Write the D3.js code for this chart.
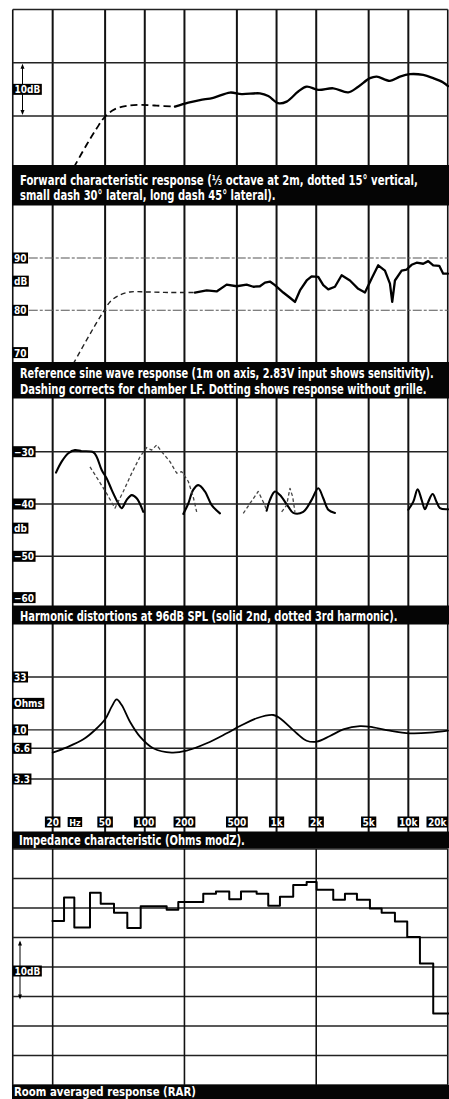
<!DOCTYPE html>
<html><head><meta charset="utf-8">
<script src="https://cdn.jsdelivr.net/npm/d3@7"></script>
<style>
html,body{margin:0;padding:0;background:#fff;}
svg{display:block;}
text{font-family:"Liberation Sans Narrow","DejaVu Sans Condensed","Arial Narrow",sans-serif;}
</style></head><body>
<svg id="c" width="449" height="1099"></svg>
<script>
// ---------- shared axis ----------
const freqTicks = [20, 50, 100, 200, 500, 1000, 2000, 5000, 10000, 20000];
const freqLabels = ["20", "50", "100", "200", "500", "1k", "2k", "5k", "10k", "20k"];
const hzLabelFreq = 29.5;
const rarFreqTicks = [20, 200, 2000];

// ---------- panel 1: forward characteristic (relative dB) ----------
const fwdGrid = [0, 10, 20];
const fwdDashed = [[29,-9.6],[36.2,-5.4],[43.2,-2.3],[50,-0.1],[59.4,1.3],[72.9,1.9],[91.9,2.1],[123,1.95],[169.5,1.75]];
const fwdSolid = [[169.5,1.75],[214,2.5],[262,3.0],[331,3.4],[443,4.4],[544,4.1],[748,4.25],[865,3.75],[1030,2.4],[1193,2.7],[1461,4.6],[1692,5.5],[2072,4.9],[2693,5.2],[3499,4.45],[4168,5.5],[5112,7.1],[5748,7.4],[7252,6.6],[8639,7.4],[10283,7.85],[12972,7.7],[15450,7.1],[18399,6.3],[20000,5.6]];

// ---------- panel 2: reference sine wave response (dB SPL) ----------
const refGrid = [80, 90];
const refLabels = ["90", "dB", "80", "70"];
const refLabelValues = [90, 85, 80, 70];
const refDashed = [[28.7,69.8],[35.2,73.8],[41.9,77.1],[48.4,79.7],[54.4,81.6],[63,82.8],[77.2,83.5],[103.4,83.5],[155.3,83.4],[240,83.4]];
const refSolid = [[240,83.4],[295,83.8],[351,83.6],[418,84.9],[498,84.6],[593,84.9],[666,84.5],[748,84.6],[817,85.3],[891,85.5],[972,84.8],[1124,83.4],[1264,82.4],[1379,81.6],[1505,83.8],[1692,85.7],[1846,86.5],[2072,86.4],[2262,84.8],[2469,84.0],[2774,84.5],[3118,86.7],[3605,85.7],[4168,84.1],[4687,83.4],[5267,86.1],[5909,88.6],[6645,87.6],[7252,85.1],[7548,81.6],[7913,85.7],[8896,87.6],[9707,87.8],[10593,88.7],[11561,89.1],[12972,88.9],[14158,89.4],[15450,88.6],[17160,88.5],[18399,87.0],[20000,87.0]];

// ---------- panel 3: harmonic distortion (dB) ----------
const hdGrid = [-30, -40, -50];
const hdLabels = ["\u221230", "\u221240", "db", "\u221250"];
const hdLabelValues = [-30, -40, -45, -50];
const hdBottomLabel = "\u221260";
const hdBottomValue = -60;
const h2SegA = [[21.2,-34.0],[23.4,-31.9],[26.3,-30.3],[29.5,-29.7],[33.2,-29.9],[40.7,-30.1],[43.2,-31.0],[47.1,-33.5],[51.4,-35.1],[56.1,-37.3],[63.0,-39.9],[66.8,-40.8],[72.9,-39.2],[79.6,-38.3],[86.8,-38.9],[97.4,-41.5]];
const h2SegB = [[196,-41.9],[214,-39.9],[233,-37.3],[255,-36.4],[286,-37.6],[322,-40.2],[372,-41.8]];
const h2SegC = [[841,-41.3],[891,-39.2],[972,-37.6],[1061,-38.3],[1227,-40.5],[1338,-41.7],[1594,-41.5],[1846,-39.2],[2072,-37.0],[2262,-38.9],[2469,-41.1],[2774,-41.7]];
const h2SegD = [[9982,-41.1],[10894,-39.6],[11764,-37.2],[12617,-39.2],[13365,-41.0],[14158,-39.6],[15288,-38.1],[16394,-39.6],[17374,-40.8],[20000,-41.0]];
const h3SegA = [[38.4,-32.9],[44.4,-35.4],[51.4,-38.0],[59.4,-40.8],[68.7,-37.6],[79.6,-34.1],[91.9,-31.0],[103.4,-29.2],[112.8,-29.7],[123.1,-28.7],[134.4,-30.0],[155.3,-31.9],[174.6,-34.1],[190.5,-33.8],[214,-35.7],[233,-38.6],[247.6,-41.5]];
const h3SegB = [[559,-41.8],[628,-39.9],[726,-37.6],[793,-39.6],[841,-41.1]];
const h3SegC = [[1093,-41.5],[1193,-40.2],[1264,-37.0],[1325,-38.6],[1379,-41.5]];

// ---------- panel 4: impedance (ohms) ----------
const impGrid = [33, 10, 6.6, 3.3];
const impLabels = ["33", "Ohms", "10", "6.6", "3.3"];
const impLabelValues = [33, 18.2, 10, 6.6, 3.3];
const impedance = [[20,5.98],[25.6,6.75],[34.2,8.08],[41.9,9.97],[50,12.7],[56.1,16.9],[61.2,19.9],[66.8,17.5],[77.2,12.0],[91.9,8.58],[116,6.6],[160,5.98],[208,6.25],[295,7.39],[418,9.26],[528,10.9],[706,13.0],[944,14.0],[1061,13.0],[1421,9.26],[1692,7.83],[2015,7.66],[2543,8.71],[3208,10.1],[4293,10.9],[5416,10.6],[7252,9.82],[10283,9.26],[14585,9.38],[20000,9.82]];

// ---------- panel 5: room averaged response (steps: band start freq, dB) ----------
const rarGrid = [-20, -15, -10, -5, 0, 5, 10, 15, 20];
const rarSteps = [[20,7.8],[24.4,11.8],[29.2,6.7],[38.4,12.6],[46.3,10.7],[58.4,9.2],[73.7,6.6],[93.1,10.3],[146.6,9.7],[179.6,11.0],[277.8,12.4],[346.9,12.8],[437.7,11.5],[537,12.8],[706,12.4],[865,10.4],[1061,11.9],[1338,13.9],[1692,14.4],[2015,13.1],[2693,11.4],[3304,12.4],[4074,11.4],[5112,9.9],[6273,9.2],[7913,7.7],[9810,5.1],[12246,0.6],[15450,-7.9],[20000,-7.9]];

// ---------- captions ----------
const captions1 = ["Forward characteristic response (\u2153 octave at 2m, dotted 15\u00b0 vertical,", "small dash 30\u00b0 lateral, long dash 45\u00b0 lateral)."];
const captions2 = ["Reference sine wave response (1m on axis, 2.83V input shows sensitivity).", "Dashing corrects for chamber LF. Dotting shows response without grille."];
const captions3 = ["Harmonic distortions at 96dB SPL (solid 2nd, dotted 3rd harmonic)."];
const captions4 = ["Impedance characteristic (Ohms modZ)."];
const captions5 = ["Room averaged response (RAR)"];

// ================= drawing =================
const L = 12.75, R = 447.75;
const x = d3.scaleLog().domain([10, 20000]).range([13, 448]);
const y1 = d3.scaleLinear().domain([-10, 20]).range([169.3, 9.4]);
const y2 = d3.scaleLinear().domain([70, 100]).range([362.6, 205.7]);
const y3 = d3.scaleLinear().domain([-60, -20]).range([608.6, 399.4]);
const y4 = d3.scaleLog().domain([3.3, 33]).range([779, 677]);
const y5 = d3.scaleLinear().domain([-20, 20]).range([1085, 849]);

const svg = d3.select("#c");
svg.append("rect").attr("width", 449).attr("height", 1099).attr("fill", "#fff");

const grid = svg.append("g");
grid.selectAll(".v").data(freqTicks).join("line")
  .attr("x1", d => Math.min(x(d), R)).attr("x2", d => Math.min(x(d), R))
  .attr("y1", 9.5).attr("y2", 832)
  .attr("stroke", "#111").attr("stroke-width", d => d === 20000 ? 1.6 : 2);
grid.append("line").attr("x1", L).attr("x2", L).attr("y1", 9.5).attr("y2", 1090)
  .attr("stroke", "#111").attr("stroke-width", 1.6);
grid.append("line").attr("x1", R).attr("x2", R).attr("y1", 849).attr("y2", 1090)
  .attr("stroke", "#111").attr("stroke-width", 1.6);

function hlines(vals, ys, style) {
  grid.selectAll(null).data(vals).join("line")
    .attr("x1", L).attr("x2", R)
    .attr("y1", d => ys(d)).attr("y2", d => ys(d))
    .attr("stroke", style.c).attr("stroke-width", style.w)
    .attr("stroke-dasharray", style.dash || null);
}
hlines(fwdGrid, y1, {c: "#222", w: 1.5});
hlines(refGrid, y2, {c: "#555", w: 1.1, dash: "9,2,3,2"});
hlines(hdGrid, y3, {c: "#222", w: 1.4});
hlines(impGrid, y4, {c: "#222", w: 1.4});
hlines(rarGrid, y5, {c: "#222", w: 1.4});
grid.selectAll(null).data(rarFreqTicks).join("line")
  .attr("x1", d => x(d)).attr("x2", d => x(d)).attr("y1", 849).attr("y2", 1085)
  .attr("stroke", "#111").attr("stroke-width", 1.6);

const smooth = d3.curveCatmullRom.alpha(0.5);
function curve(data, ys, opts) {
  const gen = d3.line().x(d => x(d[0])).y(d => ys(d[1])).curve(opts.curve || smooth);
  svg.append("path").datum(data).attr("d", gen)
    .attr("fill", "none").attr("stroke", opts.c || "#000")
    .attr("stroke-width", opts.w || 2.2)
    .attr("stroke-linejoin", "round").attr("stroke-linecap", opts.cap || "round")
    .attr("stroke-dasharray", opts.dash || null);
}
curve(fwdDashed, y1, {w: 1.8, dash: "7,4", cap: "butt"});
curve(fwdSolid, y1, {w: 2.3});
curve(refDashed, y2, {w: 1.4, dash: "5,3.5", cap: "butt", c: "#222"});
curve(refSolid, y2, {w: 2.3, curve: d3.curveLinear});
[h2SegA, h2SegB, h2SegC, h2SegD].forEach(s => curve(s, y3, {w: 2.1}));
[h3SegA, h3SegB, h3SegC].forEach(s => curve(s, y3, {w: 1.3, dash: "3.5,2.5", cap: "butt", c: "#444", curve: d3.curveLinear}));
curve(impedance, y4, {w: 1.8});
curve(rarSteps, y5, {w: 2, curve: d3.curveStepAfter, cap: "square"});

// ---------- captions ----------
function caption(top, bottom, lines, baselines, lengths, startX, fs) {
  svg.append("rect").attr("x", 12).attr("y", top).attr("width", 437).attr("height", bottom - top).attr("fill", "#050505");
  lines.forEach((t, i) => {
    const tx = svg.append("text").text(t).attr("x", 0).attr("y", 0)
      .attr("font-size", fs || 14.5).attr("font-weight", "bold").attr("fill", "#fff");
    const nat = tx.node().getComputedTextLength();
    const k = lengths[i] / nat;
    tx.attr("transform", `translate(${startX || 20},${baselines[i]}) scale(${k},1)`);
  });
}
caption(165, 205.5, captions1, [185, 200], [398, 256]);
caption(362, 398.5, captions2, [378, 393.5], [414, 407]);
caption(605.5, 624.5, captions3, [621], [378]);
caption(831.5, 848.5, captions4, [845], [226], 19);
caption(1085, 1099, captions5, [1095.5], [182], 14, 13);

// ---------- black label boxes ----------
const labels = svg.append("g");
function box(cx, cy, txt, fs, align) {
  const g = labels.append("g");
  const t = g.append("text").text(txt).attr("font-size", fs).attr("font-weight", "bold")
    .attr("fill", "#fff").attr("dominant-baseline", "central");
  const w = t.node().getComputedTextLength() + 3;
  const h = fs + 1;
  let left = align === "left" ? cx : cx - w / 2;
  if (left + w > 449) left = 449 - w - 1;
  g.insert("rect", "text").attr("x", left).attr("y", cy - h / 2).attr("width", w).attr("height", h).attr("fill", "#000");
  t.attr("x", left + 1.5).attr("y", cy + 0.5);
}
function arrowMarker(xp, yTop, yBot) {
  labels.append("line").attr("x1", xp).attr("x2", xp).attr("y1", yTop + 2).attr("y2", yBot - 2)
    .attr("stroke", "#000").attr("stroke-width", 1);
  labels.append("path").attr("d", `M${xp - 2},${yTop + 5} L${xp},${yTop} L${xp + 2},${yTop + 5} Z`).attr("fill", "#000");
  labels.append("path").attr("d", `M${xp - 2},${yBot - 5} L${xp},${yBot} L${xp + 2},${yBot - 5} Z`).attr("fill", "#000");
}
arrowMarker(22.5, y1(10) + 1, y1(0) - 1);
box(13, y1(5), "10dB", 10, "left");
arrowMarker(20, y5(5) + 3, y5(-5) + 3);
box(13, y5(0) + 4, "10dB", 10, "left");

refLabels.forEach((t, i) => {
  const v = refLabelValues[i];
  const off = v === 70 ? -10 : (v === 85 ? -3 : 0);
  box(12.5, y2(v) + off, t, 10, "left");
});
hdLabels.forEach((t, i) => {
  const v = hdLabelValues[i];
  const off = v === -45 ? -2 : 0;
  box(12.5, y3(v) + off, t, 10, "left");
});
box(12.5, y3(hdBottomValue) - 11, hdBottomLabel, 10, "left");
impLabels.forEach((t, i) => box(12.5, y4(impLabelValues[i]), t, 10, "left"));
freqLabels.forEach((t, i) => box(x(freqTicks[i]), 822, t, 10, "center"));
box(x(hzLabelFreq), 822, "Hz", 9, "center");
</script>
</body></html>
